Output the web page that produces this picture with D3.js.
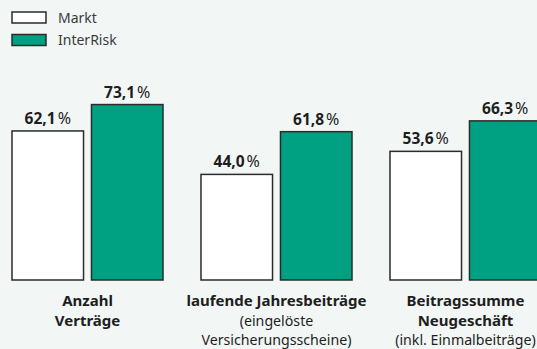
<!DOCTYPE html>
<html>
<head>
<meta charset="utf-8">
<script src="https://cdn.jsdelivr.net/npm/d3@7"></script>
<style>
  html, body { margin: 0; padding: 0; background: #f2f6f5; }
  svg { display: block; }
</style>
</head>
<body>
<div id="chart"></div>
<script>
let categories = ["Anzahl Verträge", "laufende Jahresbeiträge", "Beitragssumme Neugeschäft"];
let series = ["Markt", "InterRisk"];
let markt = [62.1, 44.0, 53.6];
let interRisk = [73.1, 61.8, 66.3];
// label lines under each group: [text, bold]
let catLines = [
    [["Anzahl", true], ["Verträge", true]],
    [["laufende Jahresbeiträge", true], ["(eingelöste", false], ["Versicherungsscheine)", false]],
    [["Beitragssumme", true], ["Neugeschäft", true], ["(inkl. Einmalbeiträge)", false]]
];

let colors = { "Markt": "#ffffff", "InterRisk": "#00a083" };
let stroke = "#2b2b2b";

let width = 537, height = 349;

let svg = d3.select('#chart')
    .append('svg')
    .attr('width', width)
    .attr('height', height);

svg.append('rect')
    .attr('width', width)
    .attr('height', height)
    .attr('fill', '#f2f6f5');

// scales
let x0 = d3.scaleBand()
    .domain(categories)
    .range([12, 541])
    .paddingInner(0.201)
    .paddingOuter(0);
let x1 = d3.scaleBand()
    .domain(series)
    .range([0, x0.bandwidth()])
    .paddingInner(0.1);
let y = d3.scaleLinear()
    .domain([0, 100])
    .range([280, 40]);

let data = categories.map(function (c, i) {
    return { cat: c, values: [
        { key: "Markt", value: markt[i] },
        { key: "InterRisk", value: interRisk[i] }
    ]};
});

let groups = svg.selectAll('g.group')
    .data(data)
    .enter()
    .append('g')
    .attr('class', 'group')
    .attr('transform', function (d) { return 'translate(' + x0(d.cat) + ',0)'; });

groups.selectAll('rect')
    .data(function (d) { return d.values; })
    .enter()
    .append('rect')
    .attr('x', function (d) { return x1(d.key); })
    .attr('y', function (d) { return y(d.value); })
    .attr('width', x1.bandwidth())
    .attr('height', function (d) { return y(0) - y(d.value); })
    .attr('fill', function (d) { return colors[d.key]; })
    .attr('stroke', stroke)
    .attr('stroke-width', 1.5);

// value labels
let fmt = function (v) { return v.toFixed(1).replace('.', ','); };
let vl = groups.selectAll('text.val')
    .data(function (d) { return d.values; })
    .enter()
    .append('text')
    .attr('class', 'val')
    .attr('x', function (d) { return x1(d.key) + x1.bandwidth() / 2; })
    .attr('y', function (d) { return y(d.value) - 7; })
    .attr('text-anchor', 'middle')
    .style('font-family', '"Noto Sans", sans-serif')
    .style('font-size', '15.5px')
    .style('font-weight', 'bold')
    .attr('fill', '#1e1e1e');
vl.append('tspan').text(function (d) { return fmt(d.value); });
vl.append('tspan').attr('dx', 2).style('font-size', '16px').style('font-weight', 'normal').text('%');

// category labels
groups.each(function (d, i) {
    let g = d3.select(this);
    let cx = x0.bandwidth() / 2;
    catLines[i].forEach(function (ln, j) {
        g.append('text')
            .attr('x', cx)
            .attr('y', 306 + j * 19.5)
            .attr('text-anchor', 'middle')
            .style('font-family', '"Noto Sans", "Open Sans", sans-serif')
            .style('font-size', ln[1] ? '15px' : '14.2px')
            .style('font-weight', ln[1] ? 'bold' : 'normal')
            .attr('fill', '#1e1e1e')
            .text(ln[0]);
    });
});

// legend
let legend = svg.append('g').attr('class', 'legend');
series.forEach(function (s, i) {
    legend.append('rect')
        .attr('x', 12)
        .attr('y', 12 + i * 22.5)
        .attr('width', 34)
        .attr('height', 11)
        .attr('fill', colors[s])
        .attr('stroke', stroke)
        .attr('stroke-width', 1.5);
    legend.append('text')
        .attr('x', 58)
        .attr('y', 22.5 + i * 22.5)
        .style('font-family', '"Noto Sans", "Open Sans", sans-serif')
        .style('font-size', '14px')
        .attr('fill', '#3c3c3c')
        .text(s);
});
</script>
</body>
</html>
